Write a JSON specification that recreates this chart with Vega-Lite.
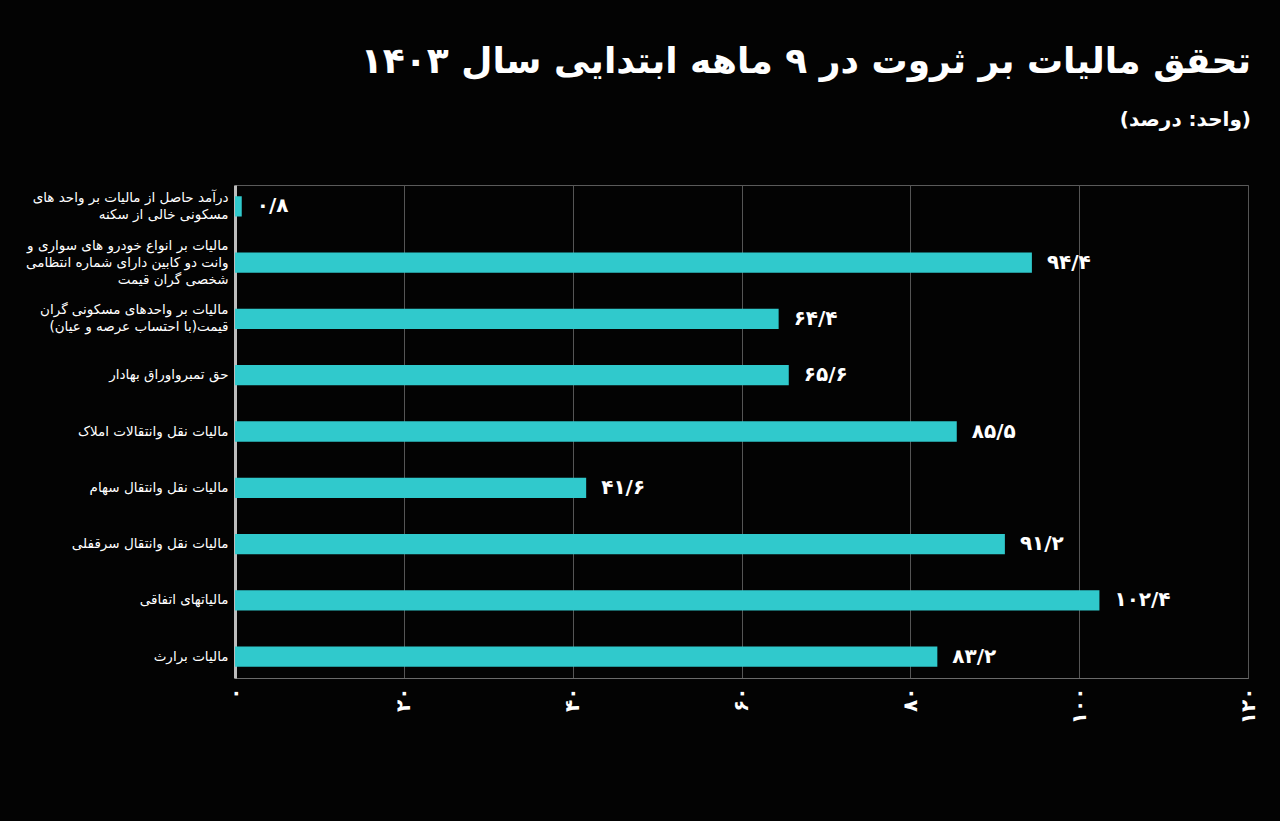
{
  "$schema": "https://vega.github.io/schema/vega-lite/v6.json",
  "width": 1013,
  "height": 493,
  "autosize": {"type": "none"},
  "padding": {"left": 235, "top": 185, "right": 32, "bottom": 143},
  "background": "#030303",
  "config": {
    "font": "DejaVu Sans",
    "view": {"stroke": "#5a5a5a", "strokeWidth": 1}
  },
  "title": {
    "text": "تحقق مالیات بر ثروت در ۹ ماهه ابتدایی سال ۱۴۰۳",
    "subtitle": "(واحد: درصد)",
    "anchor": "end",
    "dx": -7,
    "color": "#ffffff",
    "subtitleColor": "#ffffff",
    "fontSize": 36,
    "fontWeight": "bold",
    "subtitleFontSize": 20,
    "subtitleFontWeight": "bold",
    "subtitlePadding": 29,
    "offset": 54
  },
  "data": {
    "values": [
      {"label": "درآمد حاصل از مالیات بر واحد های|مسکونی خالی از سکنه", "value": 0.8, "text": "۰/۸"},
      {"label": "مالیات بر انواع خودرو های سواری و|وانت دو کابین دارای شماره انتظامی|شخصی گران قیمت", "value": 94.4, "text": "۹۴/۴"},
      {"label": "مالیات بر واحدهای مسکونی گران|قیمت(با احتساب عرصه و عیان)", "value": 64.4, "text": "۶۴/۴"},
      {"label": "حق تمبرواوراق بهادار", "value": 65.6, "text": "۶۵/۶"},
      {"label": "مالیات نقل وانتقالات املاک", "value": 85.5, "text": "۸۵/۵"},
      {"label": "مالیات نقل وانتقال سهام", "value": 41.6, "text": "۴۱/۶"},
      {"label": "مالیات نقل وانتقال سرقفلی", "value": 91.2, "text": "۹۱/۲"},
      {"label": "مالیاتهای اتفاقی", "value": 102.4, "text": "۱۰۲/۴"},
      {"label": "مالیات برارث", "value": 83.2, "text": "۸۳/۲"}
    ]
  },
  "encoding": {
    "y": {
      "field": "label",
      "type": "nominal",
      "sort": null,
      "scale": {"paddingInner": 0.64, "paddingOuter": 0.2},
      "axis": {
        "title": null,
        "labelExpr": "split(datum.label, '|')",
        "labelColor": "#ffffff",
        "labelFontSize": 13.5,
        "labelLineHeight": 17,
        "labelPadding": 7,
        "labelLimit": 300,
        "labelOffset": {
          "condition": [
            {"test": "indexof(datum.value, 'شخصی') >= 0", "value": -17},
            {"test": "indexof(datum.value, '|') >= 0", "value": -8.5}
          ],
          "value": 0
        },
        "ticks": false,
        "domainColor": "#bdbdbd",
        "domainWidth": 3,
        "grid": false
      }
    },
    "x": {
      "field": "value",
      "type": "quantitative",
      "scale": {"domain": [0, 120], "nice": false},
      "axis": {
        "title": null,
        "values": [0, 20, 40, 60, 80, 100, 120],
        "labelExpr": "['۰','۲۰','۴۰','۶۰','۸۰','۱۰۰','۱۲۰'][round(datum.value/20)]",
        "labelAngle": -90,
        "labelColor": "#ffffff",
        "labelFontSize": 20,
        "labelFontWeight": "bold",
        "labelPadding": 9,
        "ticks": false,
        "grid": true,
        "gridColor": "#555555",
        "gridWidth": 1,
        "domainColor": "#6a6a6a",
        "domainWidth": 1
      }
    }
  },
  "layer": [
    {"mark": {"type": "bar", "color": "#30c9cc"}},
    {
      "mark": {"type": "text", "align": "left", "baseline": "middle", "dx": 15, "fontSize": 20, "fontWeight": "bold", "color": "#ffffff"},
      "encoding": {"text": {"field": "text"}}
    }
  ]
}
